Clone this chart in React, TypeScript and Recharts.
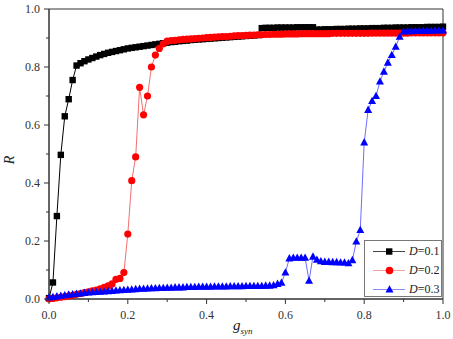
import React from 'react';
import { LineChart, Line, XAxis, YAxis, ReferenceArea, Legend } from 'recharts';

// g_syn sampled every 0.01
const gSyn = [
  0.0, 0.01, 0.02, 0.03, 0.04, 0.05, 0.06, 0.07, 0.08, 0.09,
  0.1, 0.11, 0.12, 0.13, 0.14, 0.15, 0.16, 0.17, 0.18, 0.19,
  0.2, 0.21, 0.22, 0.23, 0.24, 0.25, 0.26, 0.27, 0.28, 0.29,
  0.3, 0.31, 0.32, 0.33, 0.34, 0.35, 0.36, 0.37, 0.38, 0.39,
  0.4, 0.41, 0.42, 0.43, 0.44, 0.45, 0.46, 0.47, 0.48, 0.49,
  0.5, 0.51, 0.52, 0.53, 0.54, 0.55, 0.56, 0.57, 0.58, 0.59,
  0.6, 0.61, 0.62, 0.63, 0.64, 0.65, 0.66, 0.67, 0.68, 0.69,
  0.7, 0.71, 0.72, 0.73, 0.74, 0.75, 0.76, 0.77, 0.78, 0.79,
  0.8, 0.81, 0.82, 0.83, 0.84, 0.85, 0.86, 0.87, 0.88, 0.89,
  0.9, 0.91, 0.92, 0.93, 0.94, 0.95, 0.96, 0.97, 0.98, 0.99, 1.0,
];

// D = 0.1
const rD01 = [
  0.003, 0.057, 0.286, 0.497, 0.630, 0.689, 0.755, 0.805, 0.813, 0.820,
  0.826, 0.831, 0.836, 0.841, 0.845, 0.849, 0.852, 0.855, 0.858, 0.861,
  0.864, 0.866, 0.868, 0.870, 0.872, 0.874, 0.876, 0.878, 0.880, 0.882,
  0.884, 0.886, 0.887, 0.889, 0.890, 0.891, 0.893, 0.894, 0.895, 0.896,
  0.897, 0.898, 0.899, 0.900, 0.901, 0.902, 0.903, 0.904, 0.905, 0.906,
  0.907, 0.908, 0.909, 0.910, 0.934, 0.935, 0.935, 0.935, 0.936, 0.936,
  0.936, 0.936, 0.936, 0.937, 0.937, 0.937, 0.937, 0.937, 0.929, 0.929,
  0.930, 0.930, 0.930, 0.931, 0.931, 0.931, 0.932, 0.932, 0.932, 0.933,
  0.933, 0.933, 0.934, 0.934, 0.934, 0.935, 0.935, 0.935, 0.936, 0.936,
  0.936, 0.936, 0.937, 0.937, 0.937, 0.937, 0.938, 0.938, 0.938, 0.938, 0.939,
];

// D = 0.2
const rD02 = [
  0.000, 0.002, 0.004, 0.006, 0.008, 0.010, 0.013, 0.016, 0.019, 0.022,
  0.025, 0.028, 0.031, 0.035, 0.040, 0.045, 0.052, 0.068, 0.071, 0.091,
  0.224, 0.408, 0.490, 0.730, 0.635, 0.700, 0.800, 0.841, 0.864, 0.880,
  0.889, 0.891, 0.892, 0.894, 0.895, 0.896, 0.897, 0.898, 0.899, 0.900,
  0.901, 0.902, 0.903, 0.904, 0.905, 0.905, 0.906, 0.907, 0.908, 0.908,
  0.909, 0.910, 0.910, 0.911, 0.911, 0.912, 0.912, 0.913, 0.913, 0.913,
  0.914, 0.914, 0.914, 0.914, 0.915, 0.915, 0.915, 0.915, 0.915, 0.915,
  0.915, 0.915, 0.916, 0.916, 0.916, 0.916, 0.916, 0.916, 0.916, 0.916,
  0.916, 0.916, 0.917, 0.917, 0.917, 0.917, 0.917, 0.917, 0.917, 0.917,
  0.917, 0.917, 0.918, 0.918, 0.918, 0.918, 0.918, 0.918, 0.918, 0.918, 0.918,
];

// D = 0.3
const rD03 = [
  0.005, 0.007, 0.009, 0.011, 0.013, 0.015, 0.016, 0.018, 0.019, 0.021,
  0.022, 0.023, 0.024, 0.025, 0.026, 0.027, 0.028, 0.029, 0.030, 0.031,
  0.032, 0.033, 0.034, 0.035, 0.035, 0.036, 0.037, 0.037, 0.038, 0.038,
  0.039, 0.039, 0.040, 0.040, 0.040, 0.041, 0.041, 0.041, 0.042, 0.042,
  0.042, 0.042, 0.043, 0.043, 0.043, 0.043, 0.044, 0.044, 0.044, 0.044,
  0.045, 0.045, 0.045, 0.045, 0.045, 0.046, 0.046, 0.047, 0.052, 0.056,
  0.091, 0.140, 0.142, 0.142, 0.142, 0.142, 0.063, 0.146, 0.135, 0.130,
  0.128, 0.128, 0.127, 0.127, 0.126, 0.126, 0.123, 0.134, 0.198, 0.238,
  0.540, 0.652, 0.683, 0.700, 0.750, 0.784, 0.815, 0.841, 0.870, 0.904,
  0.922, 0.923, 0.923, 0.924, 0.924, 0.925, 0.925, 0.925, 0.926, 0.926, 0.926,
];

const xTicks = [0, 0.1, 0.2, 0.3, 0.4, 0.5, 0.6, 0.7, 0.8, 0.9, 1.0];
const yTicks = [0, 0.1, 0.2, 0.3, 0.4, 0.5, 0.6, 0.7, 0.8, 0.9, 1.0];
const majorTicks = [0, 0.2, 0.4, 0.6, 0.8, 1.0];
const seriesNames = ['D=0.1', 'D=0.2', 'D=0.3'];

const data = gSyn.map((g, i) => ({ g, d1: rD01[i], d2: rD02[i], d3: rD03[i] }));

const FONT = '"Liberation Serif", "Times New Roman", serif';
const AXIS = '#333';

const isMajor = (v: number) => majorTicks.some(m => Math.abs(m - v) < 1e-6);

const XTick = (props: any) => {
  const { x, y, payload } = props;
  const major = isMajor(payload.value);
  return (
    <g>
      <line x1={x} x2={x} y1={y} y2={y + (major ? 5 : 3)} stroke={AXIS} />
      {major && (
        <text x={x} y={y + 20} textAnchor="middle" fontFamily={FONT} fontSize={12} fill={AXIS}>
          {payload.value.toFixed(1)}
        </text>
      )}
    </g>
  );
};

const YTick = (props: any) => {
  const { x, y, payload } = props;
  const major = isMajor(payload.value);
  return (
    <g>
      <line x1={x - (major ? 5 : 3)} x2={x} y1={y} y2={y} stroke={AXIS} />
      {major && (
        <text x={x - 9} y={y + 4} textAnchor="end" fontFamily={FONT} fontSize={12} fill={AXIS}>
          {payload.value.toFixed(1)}
        </text>
      )}
    </g>
  );
};

const Square = (p: any) => {
  if (p.cx == null || p.cy == null) return null;
  return <rect key={`sq-${p.index}`} x={p.cx - 3.2} y={p.cy - 3.2} width={6.4} height={6.4} fill="#000" />;
};

const Dot = (p: any) => {
  if (p.cx == null || p.cy == null) return null;
  return <circle key={`ci-${p.index}`} cx={p.cx} cy={p.cy} r={3.6} fill="#ff0000" />;
};

const Tri = (p: any) => {
  if (p.cx == null || p.cy == null) return null;
  const { cx, cy } = p;
  return (
    <polygon
      key={`tr-${p.index}`}
      points={`${cx},${cy - 4.3} ${cx - 4},${cy + 3} ${cx + 4},${cy + 3}`}
      fill="#0000ff"
    />
  );
};

const legendRows = [
  { name: seriesNames[0], line: '#444', marker: 'square' },
  { name: seriesNames[1], line: '#f3a0a0', marker: 'circle' },
  { name: seriesNames[2], line: '#8c8cf0', marker: 'triangle' },
];

const LegendBox = () => (
  <div
    style={{
      width: 78,
      height: 57,
      boxSizing: 'border-box',
      border: '1px solid #777',
      background: '#fff',
      paddingTop: 1,
      fontFamily: FONT,
      fontSize: 12,
      color: '#222',
    }}
  >
    {legendRows.map(r => (
      <div key={r.name} style={{ height: 19, display: 'flex', alignItems: 'center' }}>
        <svg width={42} height={19} style={{ display: 'block' }}>
          <line x1={8} x2={40} y1={9.5} y2={9.5} stroke={r.line} />
          {r.marker === 'square' && <rect x={21} y={6.3} width={6.4} height={6.4} fill="#000" />}
          {r.marker === 'circle' && <circle cx={24.5} cy={9.5} r={3.8} fill="#ff0000" />}
          {r.marker === 'triangle' && <polygon points="24.5,5.2 20.5,12.5 28.5,12.5" fill="#0000ff" />}
        </svg>
        <span style={{ marginLeft: 2 }}>
          <i>D</i>
          {r.name.slice(1)}
        </span>
      </div>
    ))}
  </div>
);

export default function App() {
  return (
    <div style={{ position: 'absolute', left: 0, top: 0, background: '#fff' }}>
      <LineChart width={453} height={339} data={data} margin={{ top: 9, right: 10, bottom: 0, left: 0 }}>
        <ReferenceArea x1={0} x2={1} y1={0} y2={1} fill="none" stroke={AXIS} strokeWidth={1} />
        <XAxis
          dataKey="g"
          type="number"
          domain={[0, 1]}
          ticks={xTicks}
          interval={0}
          height={40}
          tickSize={0}
          tickMargin={0}
          tickLine={false}
          axisLine={{ stroke: AXIS }}
          tick={<XTick />}
          label={{
            content: () => (
              <text x={233} y={330} fontFamily={FONT} fill="#222" fontStyle="italic">
                <tspan fontSize={15}>g</tspan>
                <tspan fontSize={9} dy={4}>syn</tspan>
              </text>
            ),
          }}
        />
        <YAxis
          type="number"
          domain={[0, 1]}
          ticks={yTicks}
          interval={0}
          width={49}
          tickSize={0}
          tickMargin={0}
          tickLine={false}
          axisLine={{ stroke: AXIS }}
          tick={<YTick />}
          label={{
            content: () => (
              <text
                x={14}
                y={160}
                transform="rotate(-90, 14, 160)"
                textAnchor="middle"
                fontFamily={FONT}
                fontSize={14}
                fontStyle="italic"
                fill="#222"
              >
                R
              </text>
            ),
          }}
        />
        <Legend
          layout="vertical"
          align="center"
          verticalAlign="middle"
          wrapperStyle={{ left: 364, top: 240, width: 78, height: 57 }}
          content={() => <LegendBox />}
        />
        <Line
          dataKey="d1"
          name={seriesNames[0]}
          type="linear"
          stroke="#000"
          strokeWidth={1}
          dot={Square}
          activeDot={false}
          isAnimationActive={false}
        />
        <Line
          dataKey="d2"
          name={seriesNames[1]}
          type="linear"
          stroke="#f07070"
          strokeWidth={1}
          dot={Dot}
          activeDot={false}
          isAnimationActive={false}
        />
        <Line
          dataKey="d3"
          name={seriesNames[2]}
          type="linear"
          stroke="#6d6dff"
          strokeWidth={1}
          dot={Tri}
          activeDot={false}
          isAnimationActive={false}
        />
      </LineChart>
    </div>
  );
}
